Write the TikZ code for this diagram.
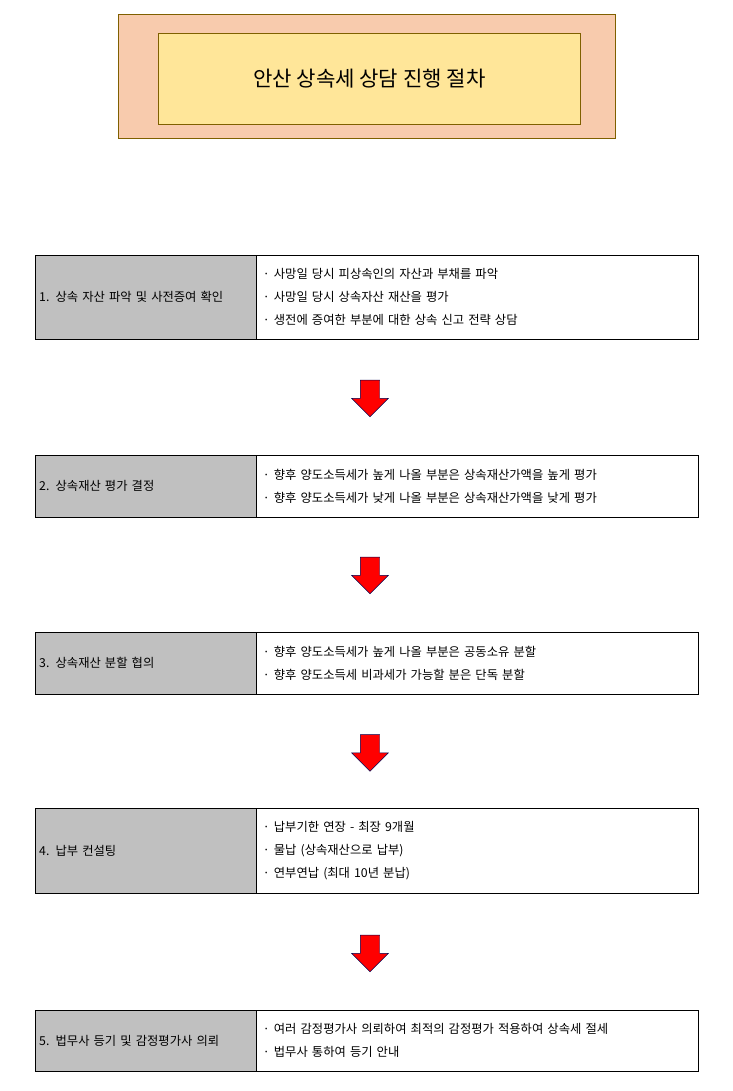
\documentclass[tikz,border=0pt]{standalone}
\usepackage{fontspec}
\setmainfont{Noto Sans CJK KR}
\usetikzlibrary{positioning, shapes.arrows}
\definecolor{titleorange}{HTML}{F8CBAD}
\definecolor{titleyellow}{HTML}{FFE699}
\definecolor{titleline}{HTML}{7F6000}
\definecolor{stepgray}{HTML}{C0C0C0}
\tikzset{
  stepname/.style = {draw=black, fill=stepgray, anchor=north west, inner sep=0pt, minimum width=6.63cm, text width=6.39cm, inner xsep=0.12cm, align=left, font=\fontsize{10.5}{12}\selectfont},
  stepinfo/.style = {draw=black, anchor=north west, inner sep=0pt, minimum width=13.26cm, text width=12.86cm, inner xsep=0.2cm, align=left, font=\fontsize{10.5}{19.5}\selectfont},
  downarrow/.style = {single arrow, draw=black!70!blue, fill=red, shape border rotate=270,
      minimum height=1.1cm, minimum width=1.08cm, single arrow head extend=0.255cm, inner sep=0.285cm}
}
\newcommand{\steprow}[5]{%
  \node[stepname, minimum height=#3] (#1n) at (35,#2) {#4};
  \node[stepinfo, minimum height=#3] (#1i) at (256,#2) {#5};
}
\begin{document}
\begin{tikzpicture}[x=0.03cm, y=-0.03cm]
  \useasboundingbox (0,0) rectangle (733,1091);

  % title
  \node[draw=titleline, fill=titleorange, minimum width=14.91cm, minimum height=3.72cm, anchor=north west, inner sep=0pt] (outer) at (118,14) {};
  \node[draw=titleline, fill=titleyellow, minimum width=12.66cm, minimum height=2.73cm, anchor=north west, inner sep=0pt,
        font=\fontsize{18}{20}\selectfont] (title) at (158,33) {안산 상속세 상담 진행 절차};

  % steps
  \steprow{s1}{255}{2.52cm}{1. 상속 자산 파악 및 사전증여 확인}{· 사망일 당시 피상속인의 자산과 부채를 파악\\· 사망일 당시 상속자산 재산을 평가\\· 생전에 증여한 부분에 대한 상속 신고 전략 상담}
  \steprow{s2}{455}{1.86cm}{2. 상속재산 평가 결정}{· 향후 양도소득세가 높게 나올 부분은 상속재산가액을 높게 평가\\· 향후 양도소득세가 낮게 나올 부분은 상속재산가액을 낮게 평가}
  \steprow{s3}{632}{1.86cm}{3. 상속재산 분할 협의}{· 향후 양도소득세가 높게 나올 부분은 공동소유 분할\\· 향후 양도소득세 비과세가 가능할 분은 단독 분할}
  \steprow{s4}{808}{2.55cm}{4. 납부 컨설팅}{· 납부기한 연장 - 최장 9개월\\· 물납 (상속재산으로 납부)\\· 연부연납 (최대 10년 분납)}
  \steprow{s5}{1010}{1.83cm}{5. 법무사 등기 및 감정평가사 의뢰}{· 여러 감정평가사 의뢰하여 최적의 감정평가 적용하여 상속세 절세\\· 법무사 통하여 등기 안내}

  % arrows
  \node[downarrow] (a1) at (370,393.5) {};
  \node[downarrow] (a2) at (370,570.5) {};
  \node[downarrow] (a3) at (370,748) {};
  \node[downarrow] (a4) at (370,948.5) {};
\end{tikzpicture}
\end{document}
